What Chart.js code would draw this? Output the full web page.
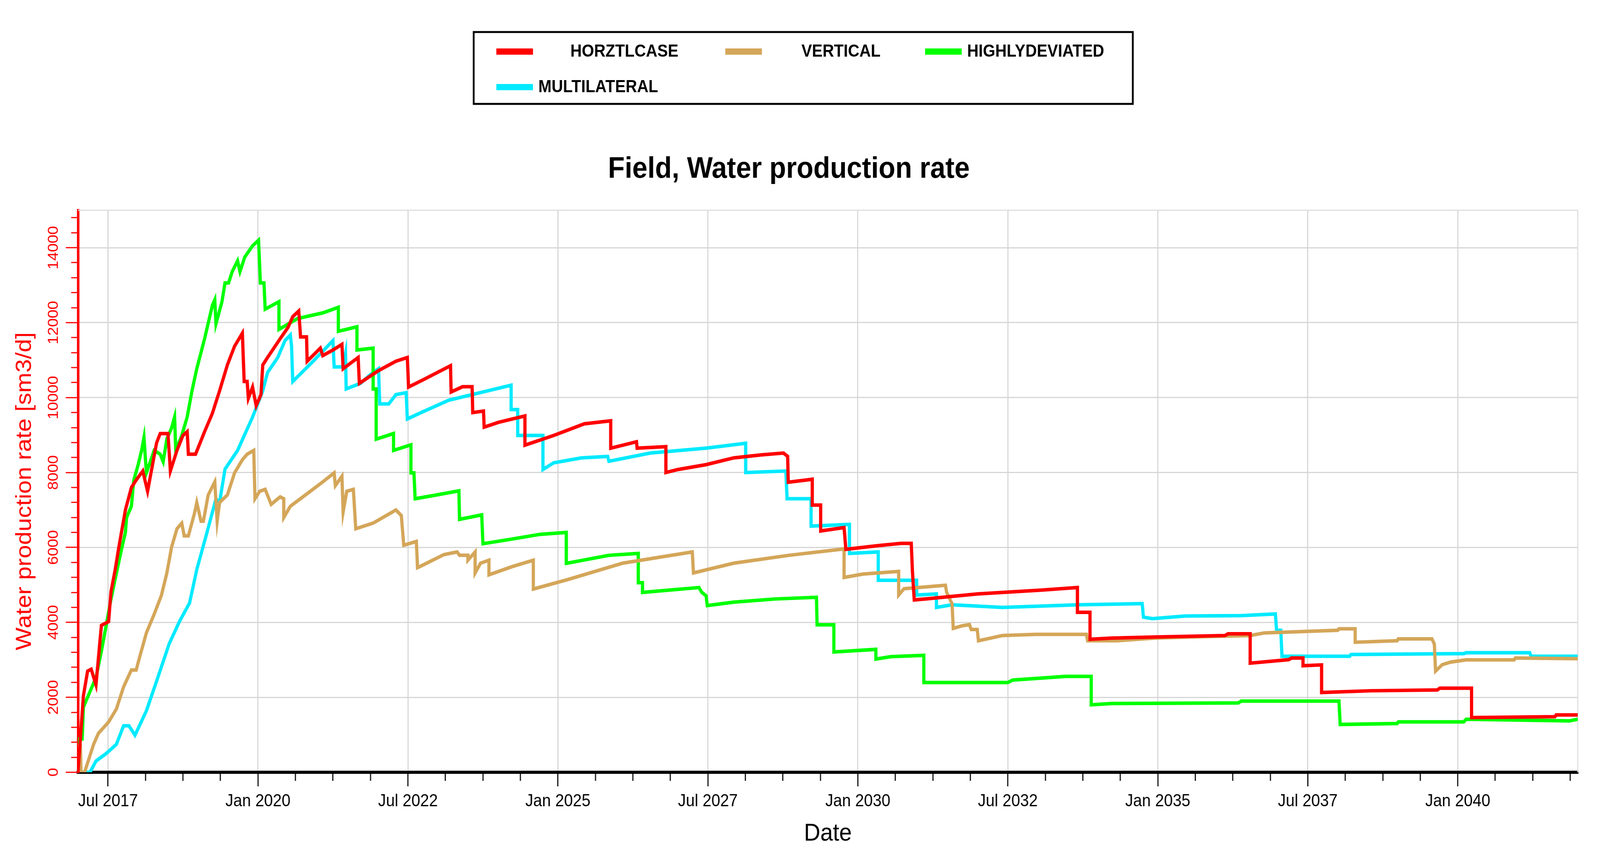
<!DOCTYPE html>
<html>
<head>
<meta charset="utf-8">
<title>Field, Water production rate</title>
<script src="https://cdn.jsdelivr.net/npm/chart.js@4.4.1/dist/chart.umd.min.js"></script>
<style>
  html, body { margin: 0; padding: 0; background: #fff; overflow: hidden; }
  #wrap { width: 4452px; height: 2176px; transform-origin: 0 0; }
</style>
</head>
<body>
<div id="wrap"><canvas id="waterChart" width="4452" height="2176"></canvas></div>
<script>
// =========================
//  Field water production rate, 4 well cases
//  x = decimal year, y = sm3/d
// =========================

// ----- Data -----
const horzYears = [2017.00,2017.09,2017.16,2017.22,2017.30,2017.39,2017.51,2017.55,2017.62,2017.68,2017.79,2017.89,2017.97,2018.08,2018.16,2018.31,2018.37,2018.50,2018.54,2018.65,2018.75,2018.82,2018.84,2018.96,2019.11,2019.24,2019.36,2019.49,2019.61,2019.74,2019.77,2019.82,2019.84,2019.91,2019.97,2020.05,2020.08,2020.16,2020.37,2020.50,2020.58,2020.68,2020.71,2020.81,2020.82,2021.04,2021.08,2021.25,2021.40,2021.42,2021.67,2021.69,2022.01,2022.30,2022.49,2022.51,2022.76,2023.21,2023.22,2023.41,2023.57,2023.58,2023.76,2023.77,2024.01,2024.45,2024.45,2024.93,2025.44,2025.88,2025.88,2026.31,2026.32,2026.80,2026.80,2027.00,2027.47,2027.93,2028.39,2028.76,2028.83,2028.84,2029.24,2029.24,2029.38,2029.38,2029.77,2029.80,2030.34,2030.72,2030.89,2030.91,2030.94,2031.15,2031.99,2033.05,2033.66,2033.66,2033.87,2033.87,2034.23,2034.95,2036.12,2036.17,2036.54,2036.54,2037.18,2037.23,2037.42,2037.42,2037.73,2037.73,2038.55,2039.66,2039.70,2040.23,2040.23,2041.62,2041.64,2042.00];
const horzRate  = [0,2040,2700,2750,2330,3920,4020,4820,5410,6000,7000,7600,7800,8040,7500,8790,9040,9040,8040,8590,8990,9090,8490,8490,9090,9580,10180,10870,11370,11720,10430,10430,9980,10280,9780,10080,10870,11070,11570,11870,12160,12310,11620,11620,10970,11320,11120,11270,11420,10770,11070,10380,10720,10970,11070,10280,10480,10850,10150,10290,10290,9600,9640,9210,9340,9510,8730,8990,9300,9380,8650,8820,8650,8690,8000,8080,8210,8390,8470,8520,8430,7740,7820,7130,7130,6440,6530,5950,6050,6110,6110,5355,4600,4630,4760,4860,4930,4270,4270,3550,3580,3610,3650,3695,3695,2912,3004,3050,3050,2843,2866,2129,2175,2198,2244,2244,1460,1484,1530,1530];

const vertYears = [2017.00,2017.01,2017.04,2017.05,2017.11,2017.18,2017.26,2017.34,2017.51,2017.64,2017.76,2017.89,2017.97,2018.02,2018.14,2018.27,2018.39,2018.48,2018.56,2018.65,2018.73,2018.77,2018.84,2018.94,2018.98,2019.05,2019.09,2019.17,2019.28,2019.32,2019.36,2019.49,2019.61,2019.74,2019.82,2019.93,2019.95,2020.03,2020.12,2020.22,2020.37,2020.43,2020.43,2020.54,2020.79,2021.08,2021.27,2021.29,2021.40,2021.42,2021.48,2021.59,2021.63,2021.92,2022.30,2022.39,2022.43,2022.64,2022.66,2022.85,2023.10,2023.32,2023.36,2023.50,2023.50,2023.62,2023.62,2023.71,2023.85,2023.85,2024.24,2024.59,2024.59,2025.16,2026.08,2027.24,2027.26,2027.93,2028.85,2029.77,2029.77,2030.09,2030.68,2030.68,2030.77,2031.23,2031.46,2031.48,2031.57,2031.59,2031.74,2031.86,2031.89,2031.99,2032.01,2032.41,2032.96,2033.81,2033.83,2034.32,2034.95,2035.54,2036.54,2036.78,2038.00,2038.02,2038.29,2038.29,2038.99,2039.01,2039.57,2039.61,2039.63,2039.74,2039.88,2040.14,2040.94,2040.96,2042.00];
const vertRate  = [0,700,700,0,0,350,745,1040,1340,1690,2280,2730,2730,3030,3720,4220,4720,5310,6010,6500,6650,6310,6310,6900,7200,6700,6700,7400,7750,6700,7200,7400,7990,8340,8490,8590,7300,7500,7550,7150,7350,7300,6800,7100,7400,7750,7990,7650,7900,6950,7500,7550,6500,6650,7000,6850,6060,6160,5460,5610,5810,5880,5790,5790,5660,5880,5320,5580,5660,5270,5490,5660,4890,5140,5580,5880,5320,5580,5790,5960,5200,5290,5360,4730,4900,4960,4990,4800,4500,3840,3910,3940,3810,3810,3510,3650,3680,3680,3510,3510,3580,3610,3650,3720,3790,3830,3830,3470,3510,3560,3560,3420,2700,2870,2940,3000,3000,3050,3030];

const hdevYears = [2017.00,2017.01,2017.07,2017.09,2017.30,2017.39,2017.47,2017.55,2017.64,2017.72,2017.79,2017.81,2017.89,2017.93,2018.00,2018.06,2018.10,2018.14,2018.27,2018.37,2018.42,2018.48,2018.56,2018.61,2018.63,2018.73,2018.82,2018.90,2018.98,2019.11,2019.24,2019.28,2019.30,2019.40,2019.45,2019.51,2019.57,2019.66,2019.70,2019.78,2019.91,2020.01,2020.04,2020.10,2020.12,2020.35,2020.35,2020.66,2021.08,2021.34,2021.34,2021.65,2021.65,2021.92,2021.92,2021.97,2021.97,2022.26,2022.26,2022.55,2022.55,2022.60,2022.62,2022.97,2023.35,2023.36,2023.73,2023.75,2024.24,2024.70,2025.14,2025.14,2025.85,2026.34,2026.34,2026.41,2026.41,2027.35,2027.40,2027.47,2027.49,2027.93,2028.62,2029.31,2029.32,2029.60,2029.60,2030.30,2030.30,2030.55,2031.10,2031.10,2032.50,2032.58,2033.47,2033.89,2033.89,2034.23,2036.34,2036.39,2038.02,2038.04,2038.99,2039.01,2040.10,2040.14,2041.86,2042.00];
const hdevRate  = [0,890,890,1740,2530,3230,3920,4620,5310,5910,6400,6800,7100,7800,8190,8590,8940,7990,8590,8490,8290,8890,9190,9480,8590,8990,9480,10180,10770,11570,12460,12610,11970,12560,13060,13060,13360,13650,13360,13750,14050,14200,13060,13060,12360,12560,11820,12110,12260,12410,11770,11890,11270,11320,10230,10230,8890,9040,8590,8740,7990,7990,7300,7400,7510,6750,6870,6100,6225,6350,6400,5575,5790,5840,5060,5060,4800,4930,4800,4710,4450,4540,4625,4670,3935,3935,3210,3280,3020,3085,3120,2395,2395,2460,2560,2560,1800,1835,1850,1900,1900,1276,1300,1345,1345,1415,1370,1415];

const multYears = [2017.00,2017.20,2017.30,2017.47,2017.64,2017.76,2017.85,2017.95,2018.14,2018.31,2018.52,2018.69,2018.86,2018.98,2019.15,2019.30,2019.36,2019.45,2019.66,2019.91,2020.08,2020.16,2020.33,2020.45,2020.54,2020.56,2020.58,2020.92,2021.25,2021.27,2021.42,2021.46,2021.47,2021.71,2021.88,2022.01,2022.03,2022.18,2022.30,2022.47,2022.49,2022.76,2023.18,2023.78,2024.22,2024.22,2024.33,2024.33,2024.75,2024.75,2024.93,2025.39,2025.83,2025.85,2026.54,2027.47,2028.13,2028.13,2028.80,2028.82,2029.22,2029.22,2029.86,2029.86,2030.34,2030.34,2030.98,2030.98,2031.31,2031.31,2031.57,2032.41,2033.68,2034.74,2034.76,2034.91,2035.46,2036.39,2036.96,2036.98,2037.05,2037.07,2038.20,2038.22,2040.10,2040.14,2041.20,2041.22,2042.00];
const multRate  = [0,0,300,500,745,1240,1240,990,1640,2430,3430,4020,4520,5410,6400,7300,7200,8090,8590,9480,10180,10670,11070,11520,11670,11370,10430,10970,11520,10820,10820,11170,10230,10380,10620,10770,9830,9830,10080,10130,9430,9630,9930,10160,10330,9680,9680,8990,8990,8080,8260,8390,8430,8300,8520,8650,8780,8000,8040,7300,7300,6570,6615,5840,5880,5125,5125,4730,4760,4400,4470,4400,4470,4500,4140,4100,4170,4180,4225,3790,3790,3097,3097,3143,3166,3190,3190,3097,3097];

// ----- Axis ticks -----
const xMajorYears  = [2017.5, 2020, 2022.5, 2025, 2027.5, 2030, 2032.5, 2035, 2037.5, 2040];
const xMajorLabels = ["Jul 2017", "Jan 2020", "Jul 2022", "Jan 2025", "Jul 2027", "Jan 2030", "Jul 2032", "Jan 2035", "Jul 2037", "Jan 2040"];
const yMajorValues = [0, 2000, 4000, 6000, 8000, 10000, 12000, 14000];
const X_MINOR = 0.625;   // 4 intervals between labelled dates
const Y_MINOR = 400;

// ----- Helpers -----
const FONT = "'Liberation Sans', Arial, sans-serif";
const near = (a, b) => Math.abs(a - b) < 1e-6;
const isMajorX = v => xMajorYears.some(t => near(t, v));
const isMajorY = v => yMajorValues.some(t => near(t, v));
const toPoints = (xs, ys) => xs.map((x, i) => ({ x, y: ys[i] }));

const xAllTicks = [];
for (let v = xMajorYears[0]; v <= 2042 + 1e-9; v += X_MINOR) xAllTicks.push(+v.toFixed(4));
const yAllTicks = [];
for (let v = 0; v < 15000; v += Y_MINOR) yAllTicks.push(v);

// fit the fixed 4452x2176 drawing into whatever window we get
const wrap = document.getElementById("wrap");
wrap.style.transform = `scale(${window.innerWidth / 4452}, ${window.innerHeight / 2176})`;

// ----- Plugins -----
const plotFrame = {
  id: "plotFrame",
  beforeDatasetsDraw(chart) {
    const { ctx, chartArea: a } = chart;
    ctx.save();
    ctx.strokeStyle = "#dedede";
    ctx.lineWidth = 3;
    ctx.beginPath();
    ctx.moveTo(a.left, a.top);
    ctx.lineTo(a.right, a.top);
    ctx.lineTo(a.right, a.bottom);
    ctx.stroke();
    ctx.restore();
  },
  afterDraw(chart) {
    const { ctx, chartArea: a, scales: { x, y } } = chart;
    ctx.save();
    ctx.lineWidth = 3;
    ctx.strokeStyle = "#000";
    x.ticks.forEach(t => {
      const px = Math.round(x.getPixelForValue(t.value));
      const len = isMajorX(t.value) ? 36 : 22;
      ctx.beginPath();
      ctx.moveTo(px, a.bottom);
      ctx.lineTo(px, a.bottom + len);
      ctx.stroke();
    });
    ctx.strokeStyle = "#ff0000";
    y.ticks.forEach(t => {
      const py = Math.round(y.getPixelForValue(t.value));
      const len = isMajorY(t.value) ? 34 : 19;
      ctx.beginPath();
      ctx.moveTo(a.left, py);
      ctx.lineTo(a.left - len, py);
      ctx.stroke();
    });
    ctx.restore();
  }
};

// legend drawn in a framed box above the title
const boxLegend = {
  id: "boxLegend",
  afterDraw(chart) {
    const { ctx } = chart;
    const slots = [
      { x: 1381, y: 132, gap: 104 },
      { x: 2018, y: 132, gap: 110 },
      { x: 2574, y: 132, gap: 15 },
      { x: 1381, y: 223, gap: 15 }
    ];
    ctx.save();
    ctx.strokeStyle = "#000";
    ctx.lineWidth = 5;
    ctx.strokeRect(1318, 82, 1834, 184);
    ctx.font = "bold 44px " + FONT;
    ctx.textBaseline = "middle";
    chart.data.datasets.forEach((ds, i) => {
      const s = slots[i];
      ctx.fillStyle = ds.borderColor;
      ctx.fillRect(s.x, s.y - 8, 102, 16);
      ctx.fillStyle = "#000";
      ctx.fillText(ds.label, s.x + 102 + s.gap, s.y + 1);
    });
    ctx.restore();
  }
};

// ----- Chart -----
const line = (label, color, xs, ys) => ({
  label,
  data: toPoints(xs, ys),
  borderColor: color,
  backgroundColor: color,
  borderWidth: 9,
  pointRadius: 0,
  tension: 0,
  fill: false
});

const ctx = document.getElementById("waterChart").getContext("2d");
new Chart(ctx, {
  type: "line",
  data: {
    datasets: [
      line("HORZTLCASE", "#ff0000", horzYears, horzRate),
      line("VERTICAL", "#d4a659", vertYears, vertRate),
      line("HIGHLYDEVIATED", "#00ff00", hdevYears, hdevRate),
      line("MULTILATERAL", "#00eaff", multYears, multRate)
    ]
  },
  options: {
    responsive: false,
    animation: false,
    devicePixelRatio: 1,
    layout: { padding: { left: 0, right: 62, top: 0, bottom: 0 } },
    plugins: {
      legend: { display: false },
      tooltip: { enabled: false },
      title: {
        display: true,
        text: "Field, Water production rate",
        color: "#000",
        font: { family: FONT, size: 76, weight: "bold" },
        padding: { top: 388, bottom: 59 }
      }
    },
    scales: {
      x: {
        type: "linear",
        min: 2017,
        max: 2042,
        afterBuildTicks: s => { s.ticks = xAllTicks.map(v => ({ value: v })); },
        afterFit: s => { s.height = 199; },
        grid: {
          color: c => (c.tick && isMajorX(c.tick.value)) ? "#d6d6d6" : "rgba(0,0,0,0)",
          lineWidth: 3,
          drawTicks: false
        },
        border: { color: "#000", width: 8 },
        ticks: {
          autoSkip: false,
          maxRotation: 0,
          padding: 48,
          color: "#000",
          font: { family: FONT, size: 44 },
          callback: v => {
            const i = xMajorYears.findIndex(t => near(t, v));
            return i >= 0 ? xMajorLabels[i] : "";
          }
        },
        title: {
          display: true,
          text: "Date",
          color: "#000",
          font: { family: FONT, size: 63 },
          padding: { top: 0, bottom: 4 }
        }
      },
      y: {
        type: "linear",
        min: 0,
        max: 15000,
        afterBuildTicks: s => { s.ticks = yAllTicks.map(v => ({ value: v })); },
        afterFit: s => { s.width = 217; },
        grid: {
          color: c => (c.tick && isMajorY(c.tick.value)) ? "#d6d6d6" : "rgba(0,0,0,0)",
          lineWidth: 3,
          drawTicks: false
        },
        border: { color: "#ff0000", width: 7 },
        ticks: {
          autoSkip: false,
          minRotation: 90,
          maxRotation: 90,
          crossAlign: "center",
          padding: 11,
          color: "#ff0000",
          font: { family: FONT, size: 40 },
          callback: v => isMajorY(v) ? String(v) : ""
        },
        title: {
          display: true,
          text: "Water production rate [sm3/d]",
          color: "#ff0000",
          font: { family: FONT, size: 62 },
          padding: { top: 32, bottom: 0 }
        }
      }
    }
  },
  plugins: [plotFrame, boxLegend]
});
</script>
</body>
</html>
